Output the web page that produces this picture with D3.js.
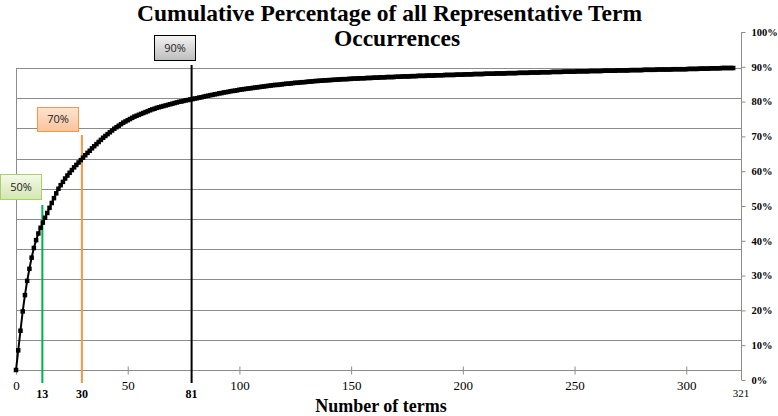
<!DOCTYPE html>
<html>
<head>
<meta charset="utf-8">
<script src="https://cdn.jsdelivr.net/npm/d3@7"></script>
<style>
  html, body { margin: 0; padding: 0; background: #ffffff; }
  svg { display: block; }
</style>
</head>
<body>
<svg id="chart" width="778" height="416"></svg>
<script>
// ---------------- DATA ----------------
const titleLines = ["Cumulative Percentage of all Representative Term", "Occurrences"];
const xAxisTitle = "Number of terms";

// cumulative percentage of occurrences, index = number of terms (0..321)
const cumulativePct = [
  0, 6.5, 13.0, 19.4, 24.8, 29.5, 33.5, 37.2, 40.4, 43.0,
  45.2, 47.1, 48.8, 50.4, 52.0, 53.7, 55.3, 56.9, 58.5, 60.0,
  61.2, 62.3, 63.4, 64.4, 65.3, 66.2, 67.1, 67.9, 68.7, 69.5,
  70.3, 71.1, 71.9, 72.6, 73.4, 74.1, 74.8, 75.5, 76.2, 76.9,
  77.5, 78.1, 78.7, 79.3, 79.9, 80.4, 80.9, 81.4, 81.9, 82.3,
  82.7, 83.1, 83.5, 83.9, 84.2, 84.5, 84.8, 85.1, 85.4, 85.7,
  86.0, 86.3, 86.5, 86.8, 87.0, 87.2, 87.4, 87.6, 87.8, 88.0,
  88.2, 88.4, 88.6, 88.8, 88.9, 89.1, 89.3, 89.4, 89.6, 89.7,
  89.9, 90.0, 90.2, 90.3, 90.5, 90.7, 90.8, 91.0, 91.1, 91.3,
  91.4, 91.6, 91.7, 91.9, 92.0, 92.1, 92.3, 92.4, 92.5, 92.6,
  92.8, 92.9, 93.0, 93.1, 93.2, 93.3, 93.4, 93.5, 93.6, 93.7,
  93.8, 93.9, 94.0, 94.1, 94.2, 94.3, 94.4, 94.4, 94.5, 94.6,
  94.7, 94.8, 94.8, 94.9, 95.0, 95.1, 95.1, 95.2, 95.3, 95.3,
  95.4, 95.5, 95.5, 95.6, 95.7, 95.7, 95.8, 95.8, 95.9, 95.9,
  96.0, 96.0, 96.1, 96.1, 96.2, 96.2, 96.3, 96.3, 96.3, 96.4,
  96.4, 96.5, 96.5, 96.5, 96.6, 96.6, 96.6, 96.7, 96.7, 96.7,
  96.8, 96.8, 96.8, 96.9, 96.9, 96.9, 97.0, 97.0, 97.0, 97.0,
  97.1, 97.1, 97.1, 97.2, 97.2, 97.2, 97.2, 97.3, 97.3, 97.3,
  97.4, 97.4, 97.4, 97.4, 97.5, 97.5, 97.5, 97.5, 97.6, 97.6,
  97.6, 97.6, 97.7, 97.7, 97.7, 97.7, 97.7, 97.8, 97.8, 97.8,
  97.8, 97.9, 97.9, 97.9, 97.9, 98.0, 98.0, 98.0, 98.0, 98.0,
  98.1, 98.1, 98.1, 98.1, 98.1, 98.2, 98.2, 98.2, 98.2, 98.2,
  98.3, 98.3, 98.3, 98.3, 98.3, 98.4, 98.4, 98.4, 98.4, 98.4,
  98.5, 98.5, 98.5, 98.5, 98.5, 98.6, 98.6, 98.6, 98.6, 98.6,
  98.7, 98.7, 98.7, 98.7, 98.7, 98.8, 98.8, 98.8, 98.8, 98.8,
  98.8, 98.9, 98.9, 98.9, 98.9, 98.9, 98.9, 99.0, 99.0, 99.0,
  99.0, 99.0, 99.0, 99.1, 99.1, 99.1, 99.1, 99.1, 99.1, 99.2,
  99.2, 99.2, 99.2, 99.2, 99.2, 99.3, 99.3, 99.3, 99.3, 99.3,
  99.3, 99.4, 99.4, 99.4, 99.4, 99.4, 99.4, 99.5, 99.5, 99.5,
  99.5, 99.5, 99.5, 99.5, 99.6, 99.6, 99.6, 99.6, 99.6, 99.6,
  99.6, 99.7, 99.7, 99.7, 99.7, 99.7, 99.8, 99.8, 99.8, 99.8,
  99.8, 99.9, 99.9, 99.9, 99.9, 99.9, 100, 100, 100, 100,
  100, 100
];

const xTickValues = [0, 50, 100, 150, 200, 250, 300];
const xMaxLabel = "321";
const gridValues = [0, 10, 20, 30, 40, 50, 60, 70, 80, 90, 100];
const rightTickValues = [0, 10, 20, 30, 40, 50, 60, 70, 80, 90, 100];

// cut-off annotations: where the vertical line sits (terms), its label, and callout text
const cutoffTerms = [11.8, 29.5, 78.6];
const cutoffLabels = ["13", "30", "81"];
const cutoffCallouts = ["50%", "70%", "90%"];

// ---------------- LAYOUT / STYLE ----------------
const W = 778, H = 416;
const plot = { left: 16, right: 741, top: 68, bottom: 370 };
const rightAxis = { top: 32, bottom: 380 };
const serif = "'Liberation Serif', 'Times New Roman', serif";

const calloutStyles = [
  { top: "#f4f9e9", bottom: "#d3e6b0", stroke: "#a9d16b", dx: -42, y0: 174, y1: 199, lineTop: 205, color: "#00b050" },
  { top: "#fde4d0", bottom: "#f9c39a", stroke: "#f79646", dx: -45, y0: 107, y1: 131, lineTop: 135, color: "#f79646" },
  { top: "#f4f4f4", bottom: "#bcbcbc", stroke: "#000000", dx: -38, y0: 35, y1: 60, lineTop: 65, color: "#000000" }
];
const calloutW = 41;
const cutLineBottom = 383;

const svg = d3.select("#chart");

const x = d3.scaleLinear().domain([0, 324.5]).range([plot.left, plot.right]);
const y = d3.scaleLinear().domain([0, 100]).range([plot.bottom, plot.top]);
const yR = d3.scaleLinear().domain([0, 100]).range([rightAxis.bottom, rightAxis.top]);

// gradients
const defs = svg.append("defs");
calloutStyles.forEach((s, i) => {
  const g = defs.append("linearGradient").attr("id", "grad" + i)
    .attr("x1", 0).attr("y1", 0).attr("x2", 0).attr("y2", 1);
  g.append("stop").attr("offset", "0%").attr("stop-color", s.top);
  g.append("stop").attr("offset", "100%").attr("stop-color", s.bottom);
});

// gridlines
svg.append("g").selectAll("line").data(gridValues).join("line")
  .attr("x1", plot.left).attr("x2", plot.right)
  .attr("y1", d => Math.round(y(d)) + 0.5).attr("y2", d => Math.round(y(d)) + 0.5)
  .attr("stroke", "#8c8c8c").attr("stroke-width", 1);

// left border
svg.append("line")
  .attr("x1", plot.left + 0.5).attr("x2", plot.left + 0.5)
  .attr("y1", y(100)).attr("y2", y(0))
  .attr("stroke", "#8c8c8c");

// bottom axis
const xAxis = d3.axisBottom(x).tickValues(xTickValues).tickSize(4).tickFormat(d3.format("d"));
const gx = svg.append("g").attr("transform", `translate(0,${Math.round(y(0)) + 0.5})`).call(xAxis);
gx.select(".domain").attr("stroke", "#8c8c8c").attr("d", `M${plot.left},0H${plot.right}`);
gx.selectAll(".tick line").attr("stroke", "#8c8c8c").attr("y1", -4).attr("y2", 4);
gx.selectAll(".tick text")
  .attr("y", 19).attr("dy", 0)
  .attr("font-family", serif).attr("font-size", 13).attr("fill", "#000");

// right axis
const rAxis = d3.axisRight(yR).tickValues(rightTickValues).tickSize(4).tickPadding(6)
  .tickFormat(d => d + "%");
const gr = svg.append("g").attr("transform", `translate(${plot.right + 0.5},0)`).call(rAxis);
gr.select(".domain").attr("stroke", "#8c8c8c").attr("d", `M0,${rightAxis.top}V${rightAxis.bottom}`);
gr.selectAll(".tick line").attr("stroke", "#8c8c8c");
gr.selectAll(".tick text")
  .attr("font-family", serif).attr("font-size", 10.5).attr("font-weight", "bold").attr("fill", "#000");

// max label at axis end
svg.append("text")
  .attr("x", plot.right).attr("y", 397)
  .attr("text-anchor", "middle")
  .attr("font-family", serif).attr("font-size", 11).attr("fill", "#000")
  .text(xMaxLabel);

// cut-off vertical lines
svg.append("g").selectAll("line").data(cutoffTerms).join("line")
  .attr("x1", d => x(d)).attr("x2", d => x(d))
  .attr("y1", (d, i) => calloutStyles[i].lineTop).attr("y2", cutLineBottom)
  .attr("stroke", (d, i) => calloutStyles[i].color).attr("stroke-width", 2);

// curve
const pts = cumulativePct.map((v, i) => [i, v]);
svg.append("path").datum(pts)
  .attr("fill", "none").attr("stroke", "#000").attr("stroke-width", 2)
  .attr("d", d3.line().x(d => x(d[0])).y(d => y(d[1])));
svg.append("g").selectAll("rect").data(pts).join("rect")
  .attr("x", d => x(d[0]) - 2.25).attr("y", d => y(d[1]) - 2.25)
  .attr("width", 4.5).attr("height", 4.5).attr("fill", "#000");

// cut-off labels under lines
svg.append("g").selectAll("text").data(cutoffTerms).join("text")
  .attr("x", d => x(d)).attr("y", 397.5)
  .attr("text-anchor", "middle")
  .attr("font-family", serif).attr("font-size", 12).attr("font-weight", "bold").attr("fill", "#000")
  .text((d, i) => cutoffLabels[i]);

// callout boxes
const cg = svg.append("g").selectAll("g").data(cutoffTerms).join("g");
cg.append("rect")
  .attr("x", (d, i) => Math.max(0.5, Math.round(x(d) + calloutStyles[i].dx) + 0.5))
  .attr("y", (d, i) => calloutStyles[i].y0 + 0.5)
  .attr("width", calloutW)
  .attr("height", (d, i) => calloutStyles[i].y1 - calloutStyles[i].y0)
  .attr("fill", (d, i) => `url(#grad${i})`)
  .attr("stroke", (d, i) => calloutStyles[i].stroke).attr("stroke-width", 1);
cg.append("text")
  .attr("x", (d, i) => Math.max(0.5, Math.round(x(d) + calloutStyles[i].dx) + 0.5) + calloutW / 2)
  .attr("y", (d, i) => (calloutStyles[i].y0 + calloutStyles[i].y1) / 2 + 4)
  .attr("text-anchor", "middle")
  .attr("font-family", "'Open Sans', sans-serif").attr("font-size", 11).attr("fill", "#222")
  .text((d, i) => cutoffCallouts[i]);

// title
const titleX = [389.5, 397];
const titleY = [21, 46];
svg.append("g").selectAll("text").data(titleLines).join("text")
  .attr("x", (d, i) => titleX[i]).attr("y", (d, i) => titleY[i])
  .attr("text-anchor", "middle")
  .attr("font-family", serif).attr("font-size", 23.5).attr("font-weight", "bold").attr("fill", "#000")
  .text(d => d);

// x axis title
svg.append("text")
  .attr("x", 381).attr("y", 412)
  .attr("text-anchor", "middle")
  .attr("font-family", serif).attr("font-size", 18).attr("font-weight", "bold").attr("fill", "#000")
  .text(xAxisTitle);
</script>
</body>
</html>
